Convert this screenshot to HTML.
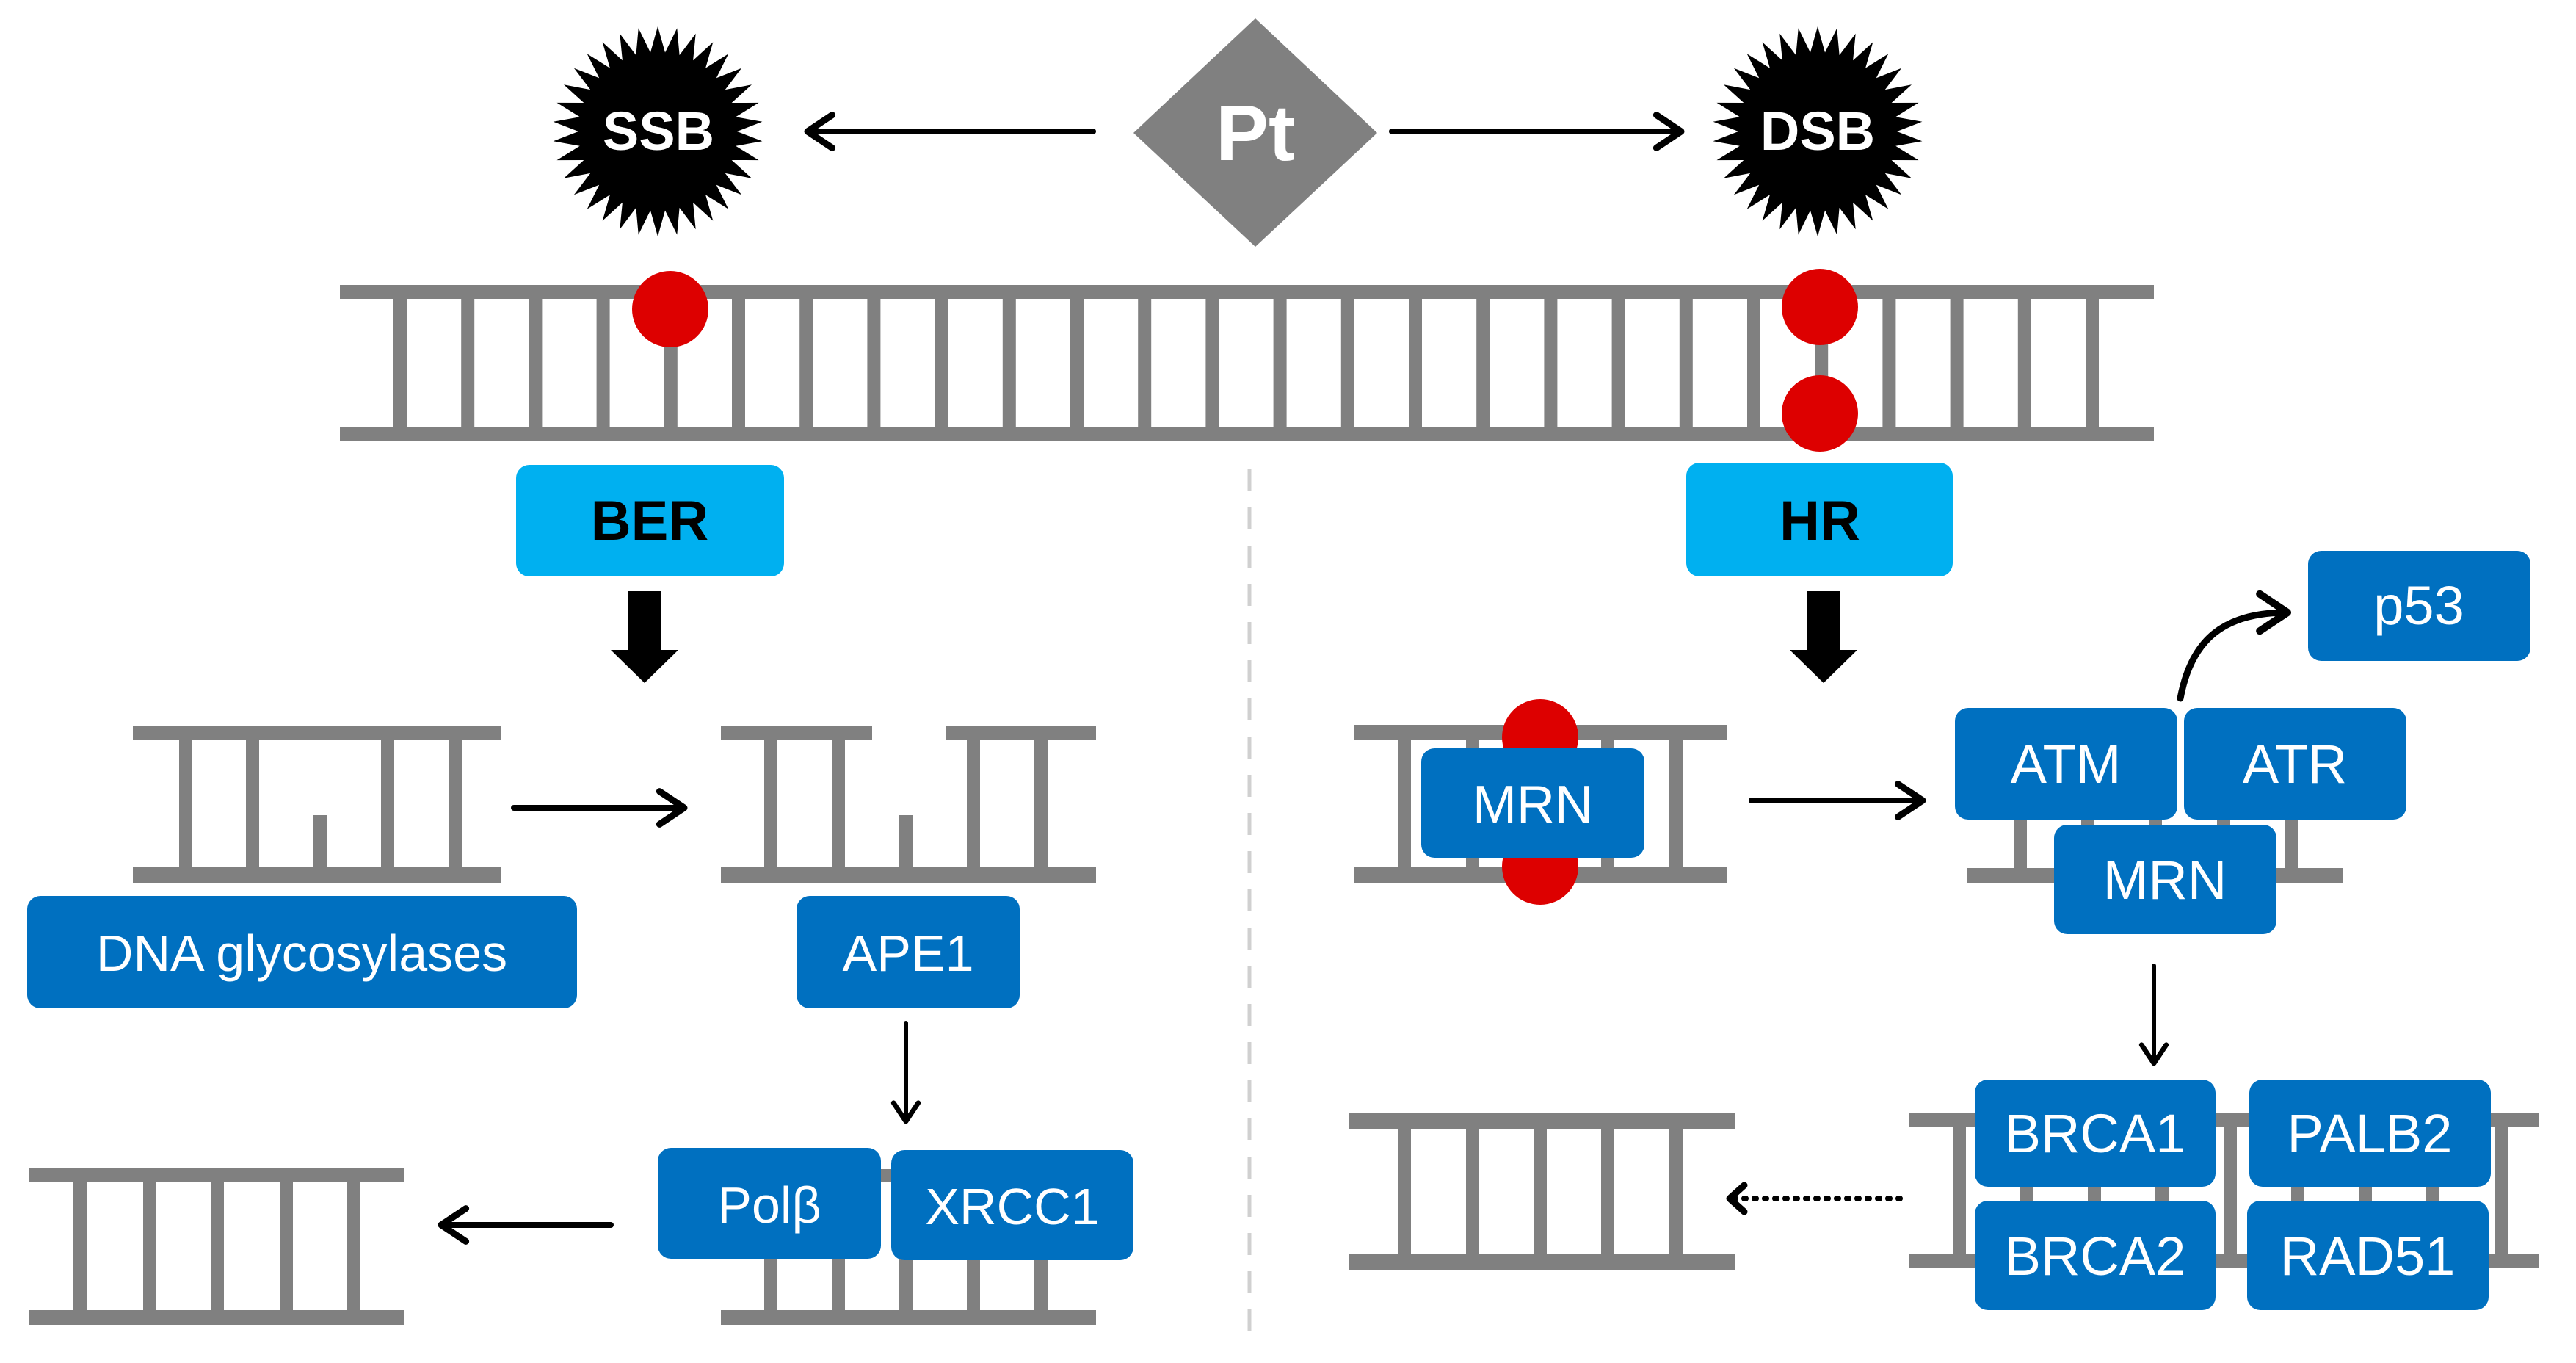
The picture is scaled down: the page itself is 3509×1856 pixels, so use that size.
<!DOCTYPE html>
<html><head><meta charset="utf-8"><style>
html,body{margin:0;padding:0;background:#fff;}
svg{display:block;}
text{font-family:"Liberation Sans",Arial,sans-serif;}
</style></head><body>
<svg id="s" width="3509" height="1856" viewBox="0 0 3509 1856" xmlns="http://www.w3.org/2000/svg">
<defs>
<marker id="ah" viewBox="0 0 20 20" refX="16" refY="10" markerWidth="7" markerHeight="7" markerUnits="strokeWidth" orient="auto">
<path d="M4,2 L16,10 L4,18" fill="none" stroke="#000" stroke-width="3.2" stroke-linecap="round" stroke-linejoin="round"/>
</marker>
</defs>
<rect width="3509" height="1856" fill="#fff"/>
<g id="dyn"></g>

<!-- dashed divider -->
<line x1="1702" y1="639" x2="1702" y2="1822" stroke="#d0d0d0" stroke-width="5" stroke-dasharray="30,22"/>

<!-- Pt diamond -->
<polygon points="1710,25 1876,181 1710,336 1544,181" fill="#808080"/>
<text x="1710" y="218" font-size="108" font-weight="bold" fill="#fff" text-anchor="middle">Pt</text>

<!-- top arrows -->
<line x1="1489" y1="179" x2="1100" y2="179" stroke="#000" stroke-width="8" stroke-linecap="round" marker-end="url(#ah)"/>
<line x1="1896" y1="179" x2="2290" y2="179" stroke="#000" stroke-width="8" stroke-linecap="round" marker-end="url(#ah)"/>

<text x="897" y="204" font-size="74" font-weight="bold" fill="#fff" text-anchor="middle" id="ssbt">SSB</text>
<text x="2476" y="204" font-size="74" font-weight="bold" fill="#fff" text-anchor="middle" id="dsbt">DSB</text>

<!-- top DNA -->
<g fill="#808080">
<rect x="463" y="388" width="2471" height="19"/>
<rect x="463" y="581" width="2471" height="20"/>
<g id="toprungs"></g>
</g>
<g fill="#dd0000">
<ellipse cx="913" cy="421" rx="52" ry="52"/>
<ellipse cx="2479" cy="418" rx="52" ry="52"/>
<ellipse cx="2479" cy="563" rx="52" ry="52"/>
</g>

<!-- BER / HR -->
<rect x="703" y="633" width="365" height="152" rx="18" fill="#00b0f0"/>
<text x="885" y="735" font-size="76" font-weight="bold" fill="#000" text-anchor="middle">BER</text>
<rect x="2297" y="630" width="363" height="155" rx="18" fill="#00b0f0"/>
<text x="2479" y="735" font-size="76" font-weight="bold" fill="#000" text-anchor="middle">HR</text>

<!-- thick arrows -->
<polygon points="855,805 901,805 901,885 924,885 878,930 832,885 855,885" fill="#000"/>
<polygon points="2461,805 2507,805 2507,885 2530,885 2484,930 2438,885 2461,885" fill="#000"/>

<!-- BER DNA 1 -->
<g fill="#808080">
<rect x="181" y="988" width="502" height="20"/>
<rect x="181" y="1181" width="502" height="21"/>
<rect x="244" y="1008" width="18" height="173"/>
<rect x="335" y="1008" width="18" height="173"/>
<rect x="427" y="1110" width="18" height="71"/>
<rect x="519" y="1008" width="18" height="173"/>
<rect x="611" y="1008" width="18" height="173"/>
</g>
<line x1="700" y1="1100" x2="932" y2="1100" stroke="#000" stroke-width="8" stroke-linecap="round" marker-end="url(#ah)"/>
<!-- BER DNA 2 -->
<g fill="#808080">
<rect x="982" y="988" width="206" height="20"/>
<rect x="1288" y="988" width="205" height="20"/>
<rect x="982" y="1181" width="511" height="21"/>
<rect x="1041" y="1008" width="18" height="173"/>
<rect x="1133" y="1008" width="18" height="173"/>
<rect x="1225" y="1110" width="18" height="71"/>
<rect x="1317" y="1008" width="18" height="173"/>
<rect x="1409" y="1008" width="18" height="173"/>
</g>
<rect x="37" y="1220" width="749" height="153" rx="18" fill="#0070c0"/>
<text x="411" y="1322" font-size="70" fill="#fff" text-anchor="middle">DNA glycosylases</text>
<rect x="1085" y="1220" width="304" height="153" rx="18" fill="#0070c0"/>
<text x="1237" y="1322" font-size="70" fill="#fff" text-anchor="middle">APE1</text>
<line x1="1234" y1="1393" x2="1234" y2="1527" stroke="#000" stroke-width="6" stroke-linecap="round" marker-end="url(#ah)"/>

<!-- BER bottom -->
<g fill="#808080">
<rect x="982" y="1592" width="511" height="18"/>
<rect x="982" y="1784" width="511" height="20"/>
<rect x="1041" y="1600" width="18" height="184"/>
<rect x="1133" y="1600" width="18" height="184"/>
<rect x="1225" y="1600" width="18" height="184"/>
<rect x="1317" y="1600" width="18" height="184"/>
<rect x="1409" y="1600" width="18" height="184"/>
</g>
<rect x="896" y="1563" width="304" height="151" rx="18" fill="#0070c0"/>
<text x="1048" y="1665" font-size="70" fill="#fff" text-anchor="middle">Polβ</text>
<rect x="1214" y="1566" width="330" height="150" rx="18" fill="#0070c0"/>
<text x="1379" y="1667" font-size="70" fill="#fff" text-anchor="middle">XRCC1</text>
<line x1="832" y1="1668" x2="601" y2="1668" stroke="#000" stroke-width="8" stroke-linecap="round" marker-end="url(#ah)"/>
<g fill="#808080">
<rect x="40" y="1590" width="511" height="20"/>
<rect x="40" y="1784" width="511" height="20"/>
<rect x="100" y="1610" width="18" height="174"/>
<rect x="195" y="1610" width="18" height="174"/>
<rect x="287" y="1610" width="18" height="174"/>
<rect x="381" y="1610" width="18" height="174"/>
<rect x="473" y="1610" width="18" height="174"/>
</g>

<!-- HR MRN DNA -->
<g fill="#808080">
<rect x="1844" y="987" width="508" height="21"/>
<rect x="1844" y="1181" width="508" height="21"/>
<rect x="1904" y="1008" width="18" height="173"/>
<rect x="1997" y="1008" width="18" height="173"/>
<rect x="2181" y="1008" width="18" height="173"/>
<rect x="2274" y="1008" width="18" height="173"/>
</g>
<ellipse cx="2098" cy="1004" rx="52" ry="52" fill="#dd0000"/>
<ellipse cx="2098" cy="1180" rx="52" ry="52" fill="#dd0000"/>
<rect x="1936" y="1019" width="304" height="149" rx="18" fill="#0070c0"/>
<text x="2088" y="1120" font-size="72" fill="#fff" text-anchor="middle">MRN</text>
<line x1="2386" y1="1090" x2="2619" y2="1090" stroke="#000" stroke-width="8" stroke-linecap="round" marker-end="url(#ah)"/>

<!-- ATM/ATR/MRN -->
<g fill="#808080">
<rect x="2680" y="1182" width="511" height="21"/>
<rect x="2743" y="1110" width="18" height="72"/>
<rect x="3112" y="1110" width="18" height="72"/>
<rect x="2835" y="1110" width="18" height="20"/>
<rect x="2927" y="1110" width="18" height="20"/>
<rect x="3020" y="1110" width="18" height="20"/>
</g>
<rect x="2663" y="964" width="303" height="152" rx="18" fill="#0070c0"/>
<text x="2814" y="1066" font-size="74" fill="#fff" text-anchor="middle">ATM</text>
<rect x="2975" y="964" width="303" height="152" rx="18" fill="#0070c0"/>
<text x="3126" y="1066" font-size="74" fill="#fff" text-anchor="middle">ATR</text>
<rect x="2798" y="1123" width="303" height="149" rx="18" fill="#0070c0"/>
<text x="2949" y="1224" font-size="74" fill="#fff" text-anchor="middle">MRN</text>

<rect x="3144" y="750" width="303" height="150" rx="18" fill="#0070c0"/>
<text x="3295" y="850" font-size="74" fill="#fff" text-anchor="middle">p53</text>
<path d="M2970,951 C2985,870 3030,834 3116,834" fill="none" stroke="#000" stroke-width="9" stroke-linecap="round" marker-end="url(#ah)"/>

<line x1="2934" y1="1315" x2="2934" y2="1448" stroke="#000" stroke-width="6" stroke-linecap="round" marker-end="url(#ah)"/>

<!-- BRCA group -->
<g fill="#808080">
<rect x="2600" y="1515" width="859" height="19"/>
<rect x="2600" y="1708" width="859" height="19"/>
<rect x="2660" y="1534" width="18" height="174"/>
<rect x="2752" y="1534" width="18" height="174"/>
<rect x="2844" y="1534" width="18" height="174"/>
<rect x="2936" y="1534" width="18" height="174"/>
<rect x="3029" y="1534" width="18" height="174"/>
<rect x="3121" y="1534" width="18" height="174"/>
<rect x="3213" y="1534" width="18" height="174"/>
<rect x="3305" y="1534" width="18" height="174"/>
<rect x="3398" y="1534" width="18" height="174"/>
</g>
<rect x="2690" y="1470" width="328" height="146" rx="18" fill="#0070c0"/>
<text x="2854" y="1569" font-size="74" fill="#fff" text-anchor="middle">BRCA1</text>
<rect x="3064" y="1470" width="329" height="146" rx="18" fill="#0070c0"/>
<text x="3228" y="1569" font-size="74" fill="#fff" text-anchor="middle">PALB2</text>
<rect x="2690" y="1635" width="328" height="149" rx="18" fill="#0070c0"/>
<text x="2854" y="1736" font-size="74" fill="#fff" text-anchor="middle">BRCA2</text>
<rect x="3061" y="1635" width="329" height="149" rx="18" fill="#0070c0"/>
<text x="3225" y="1736" font-size="74" fill="#fff" text-anchor="middle">RAD51</text>

<line x1="2588" y1="1632" x2="2360" y2="1632" stroke="#000" stroke-width="8" stroke-dasharray="2,12" stroke-linecap="round"/>
<path d="M2376,1614 L2356,1632 L2376,1650" fill="none" stroke="#000" stroke-width="9" stroke-linecap="round" stroke-linejoin="round"/>

<g fill="#808080">
<rect x="1838" y="1516" width="525" height="21"/>
<rect x="1838" y="1708" width="525" height="21"/>
<rect x="1904" y="1537" width="18" height="171"/>
<rect x="1997" y="1537" width="18" height="171"/>
<rect x="2089" y="1537" width="18" height="171"/>
<rect x="2181" y="1537" width="18" height="171"/>
<rect x="2274" y="1537" width="18" height="171"/>
</g>
</svg>
<script>
(function(){
var NS="http://www.w3.org/2000/svg";
var g=document.getElementById("toprungs");
for(var k=0;k<26;k++){var r=document.createElementNS(NS,"rect");var cx=545+92.2*k;
r.setAttribute("x",cx-9);r.setAttribute("y",405);r.setAttribute("width",18);r.setAttribute("height",178);g.appendChild(r);}
function star(cx,cy,ro,ri,n){var p=[];for(var i=0;i<2*n;i++){var a=Math.PI*i/n-Math.PI/2;var r=i%2?ri:ro;p.push((cx+r*Math.cos(a)).toFixed(1)+","+(cy+r*Math.sin(a)).toFixed(1));}
var e=document.createElementNS(NS,"polygon");e.setAttribute("points",p.join(" "));e.setAttribute("fill","#000");return e;}
var s=document.getElementById("dyn");
s.appendChild(star(896,179,143,108,34));
s.appendChild(star(2476,179,143,108,34));
})();
</script>
</body></html>
